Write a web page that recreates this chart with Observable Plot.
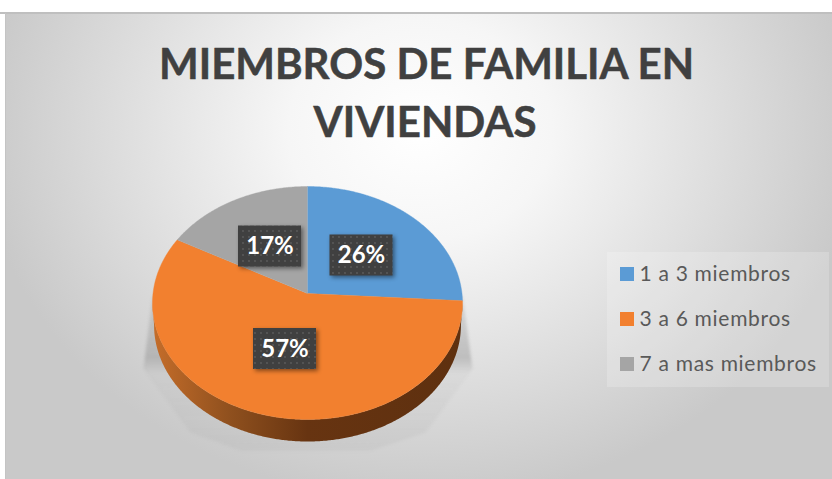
<!DOCTYPE html>
<html><head><meta charset="utf-8">
<script src="https://cdn.jsdelivr.net/npm/d3@7"></script>
<script src="https://cdn.jsdelivr.net/npm/@observablehq/plot@0.6"></script>
<style>html,body{margin:0;padding:0;background:#fff}svg{display:block}</style>
</head><body><div id="chart"></div>
<script>
const titleLines = ["MIEMBROS DE FAMILIA EN", "VIVIENDAS"];
const categories = ["1 a 3 miembros", "3 a 6 miembros", "7 a mas miembros"];
const percents = [26, 57, 17];
const colors = ["#5b9bd5", "#f2802f", "#a5a5a5"];

// layout (pixels of the 832x479 picture)
const W = 832, H = 479;
const FONT = "Lato, Carlito, Calibri, sans-serif";
const px = d3.scaleLinear([152, 462], [-1, 1]);
const py = d3.scaleLinear([419, 186], [-1, 1]);
const tilt = 0.0815, depth = 22 / 116.5;
const labelCenters = [[361, 255], [284.5, 348.5], [269.5, 246]];
const legendRows = [274, 319, 364];

// the tilted disc: an angle on the true circle, seen in perspective
function rimPoint(deg) {
  const a = deg * Math.PI / 180, sx = Math.sin(a), sy = Math.cos(a), k = 1 + tilt * sy;
  return [sx * Math.sqrt(1 - tilt * tilt) / k, (sy + tilt) / k];
}
const total = d3.sum(percents);
let acc = 0;
const slicePoints = categories.flatMap((category, i) => {
  const a0 = acc / total * 360; acc += percents[i];
  const a1 = acc / total * 360, n = Math.ceil((a1 - a0) * 2), pts = [{category, p: [0, tilt]}];
  for (let j = 0; j <= n; ++j) pts.push({category, p: rimPoint(a0 + (a1 - a0) * j / n)});
  return pts;
});
const side = [];
for (let t = 90; t <= 270; t += 0.5) side.push([Math.sin(t * Math.PI / 180), Math.cos(t * Math.PI / 180)]);
for (let t = 270; t >= 90; t -= 0.5) side.push([0.99 * Math.sin(t * Math.PI / 180), Math.cos(t * Math.PI / 180) - depth]);
const shadow = [[152, 296], [143, 368], [190, 432], [240, 450], [370, 450], [425, 432], [472, 368], [462, 296]].map(([x, y]) => [px(x), py(y)]);

const defs = () => {
  const g = d3.create("svg:defs");
  g.html(`
  <radialGradient id="bg" gradientUnits="userSpaceOnUse" cx="0" cy="0" r="1" gradientTransform="translate(420 130) scale(440 370)">
    <stop offset="0" stop-color="#ffffff"/><stop offset="0.3" stop-color="#f6f6f6"/><stop offset="1" stop-color="#c9c9c9"/>
  </radialGradient>
  <linearGradient id="rim" x1="0" x2="1" y1="0" y2="0">
    <stop offset="0" stop-color="#c56d2a"/><stop offset="0.25" stop-color="#8f501e"/><stop offset="0.5" stop-color="#673411"/><stop offset="1" stop-color="#5e300f"/>
  </linearGradient>
  <linearGradient id="shade" x1="0" x2="0" y1="0" y2="1">
    <stop offset="0" stop-color="#8a8a8a" stop-opacity="0.2"/><stop offset="0.4" stop-color="#8a8a8a" stop-opacity="0.4"/><stop offset="0.5" stop-color="#8a8a8a" stop-opacity="0.06"/><stop offset="1" stop-color="#8a8a8a" stop-opacity="0.1"/>
  </linearGradient>
  <pattern id="dots" patternUnits="userSpaceOnUse" width="6" height="6">
    <rect width="6" height="6" fill="#404040"/><circle cx="3" cy="3" r="0.9" fill="#5c5c5c"/>
  </pattern>`);
  return g.node();
};

const plot = Plot.plot({
  width: W, height: H, margin: 0,
  style: {background: "#fff", fontFamily: FONT},
  x: {domain: [-1, 1], range: [152, 462], axis: null},
  y: {domain: [-1, 1], range: [419, 186], axis: null},
  color: {domain: categories, range: colors},
  marks: [
    defs,
    Plot.rect([0], {x1: px(5), x2: px(W), y1: py(13), y2: py(H), fill: "url(#bg)"}),
    Plot.rect([0], {x1: px(0), x2: px(W), y1: py(12), y2: py(14), fill: "#bfbfbf"}),
    Plot.rect([0], {x1: px(5), x2: px(6), y1: py(13), y2: py(H), fill: "#c4c4c4"}),
    Plot.rect([0], {x1: px(607), x2: px(829), y1: py(252), y2: py(387), fill: "#fff", fillOpacity: 0.2}),
    Plot.text(titleLines, {
      x: (d, i) => px([426, 424.5][i]), y: (d, i) => py([78, 136][i]), text: d => d,
      fontSize: 42, fontWeight: 700, fill: "#404040", stroke: "#404040", strokeWidth: 0.5,
      textAnchor: "middle", lineAnchor: "bottom"
    }),
    Plot.line(shadow, {x: d => d[0], y: d => d[1], fill: "url(#shade)", stroke: "none", imageFilter: "blur(1.5px)"}),
    Plot.line(side, {x: d => d[0], y: d => d[1], fill: "url(#rim)", stroke: "none"}),
    Plot.line(slicePoints, {x: d => d.p[0], y: d => d.p[1], z: "category", fill: "category", stroke: "category", strokeWidth: 0.4}),
    Plot.rect(percents, {
      x1: (d, i) => px(labelCenters[i][0] - 31.5), x2: (d, i) => px(labelCenters[i][0] + 31.5),
      y1: (d, i) => py(labelCenters[i][1] - 20.5), y2: (d, i) => py(labelCenters[i][1] + 20.5),
      fill: "url(#dots)", imageFilter: "drop-shadow(2px 2px 2px rgba(0,0,0,.45))"
    }),
    Plot.text(percents, {
      x: (d, i) => px(labelCenters[i][0]), y: (d, i) => py(labelCenters[i][1]),
      text: d => d + "%", fontSize: 24, fontWeight: 700, fill: "#fff"
    }),
    Plot.rect(categories, {
      x1: px(620), x2: px(634),
      y1: (d, i) => py(legendRows[i] - 7), y2: (d, i) => py(legendRows[i] + 7),
      fill: d => d
    }),
    Plot.text(categories, {
      x: px(639), y: (d, i) => py(legendRows[i]), text: d => d,
      fontSize: 21, fill: "#595959", textAnchor: "start"
    })
  ]
});
d3.select(plot).selectAll("text").filter(function () { return categories.includes(this.textContent); })
  .style("letter-spacing", "0.7px");
document.getElementById("chart").append(plot);
</script></body></html>
